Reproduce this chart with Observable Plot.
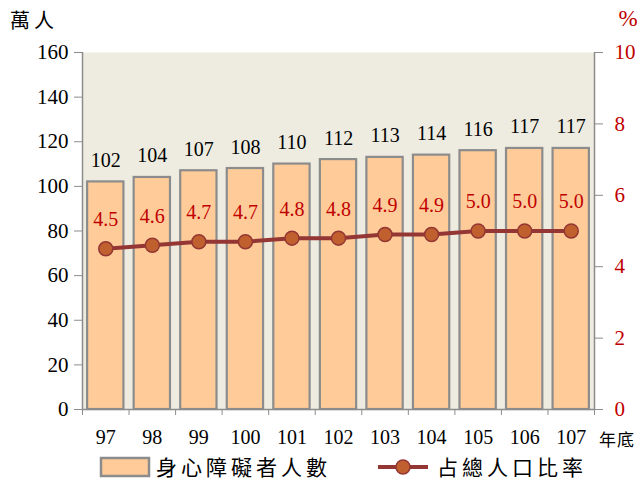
<!DOCTYPE html>
<html>
<head>
<meta charset="utf-8">
<script src="https://cdn.jsdelivr.net/npm/d3@7"></script>
<script src="https://cdn.jsdelivr.net/npm/@observablehq/plot@0.6"></script>
<style>
body{margin:0;background:#fff;}
#chart svg{display:block;}
#chart svg text{font-family:"Liberation Serif","Times New Roman","DejaVu Serif",serif !important;}
#chart svg text.cjk{font-family:"Noto Sans CJK TC","Noto Sans CJK SC",sans-serif !important;}
</style>
</head>
<body>
<div id="chart"></div>
<script>
const years = [97, 98, 99, 100, 101, 102, 103, 104, 105, 106, 107];
const counts = [102, 104, 107, 108, 110, 112, 113, 114, 116, 117, 117];
const pcts = [4.5, 4.6, 4.7, 4.7, 4.8, 4.8, 4.9, 4.9, 5.0, 5.0, 5.0];
const leftTicks = [0, 20, 40, 60, 80, 100, 120, 140, 160];
const rightTicks = [0, 2, 4, 6, 8, 10];
const seriesNames = ["身心障礙者人數", "占總人口比率"];
const leftUnit = "萬人", rightUnit = "%", xUnit = "年底";

const ratio = 16; // 10% maps to 160
const data = years.map((y, i) => ({year: y, count: counts[i], pct: pcts[i]}));

const gray = "#8c8c8c";
const red = "#C00000";

const plot = Plot.plot({
  width: 644,
  height: 491,
  marginLeft: 82,
  marginRight: 50,
  marginTop: 52,
  marginBottom: 82,
  style: {background: "#fff", color: "#000"},
  x: {type: "linear", domain: [years[0] - 0.5, years[years.length - 1] + 0.5]},
  y: {domain: [0, 160]},
  marks: [
    Plot.frame({fill: "#EEECE1", stroke: null}),
    Plot.rectY(data, {x1: d => d.year - 0.39, x2: d => d.year + 0.39, y: "count", fill: "#FFCC99", stroke: gray, strokeWidth: 2.2}),
    Plot.ruleX([years[0] - 0.5, years[years.length - 1] + 0.5], {stroke: gray, strokeWidth: 1.5}),
    Plot.ruleY([0], {stroke: gray, strokeWidth: 1.5}),
    Plot.axisY({ticks: leftTicks, tickSize: 8, tickPadding: 6, stroke: gray, fill: "#000", fontSize: 21, label: null, tickFormat: d => d}),
    Plot.axisY({anchor: "right", ticks: rightTicks.map(t => t * ratio), tickFormat: d => d / ratio, tickSize: 8, tickPadding: 12, stroke: gray, fill: red, fontSize: 21, label: null}),
    Plot.axisX({ticks: d3.range(years.length + 1).map(i => years[0] - 0.5 + i), tickFormat: () => "", tickSize: 6, stroke: gray, label: null}),
    Plot.axisX({ticks: years, tickSize: 0, tickPadding: 20, fontSize: 20, fill: "#000", label: null, tickFormat: d => d}),
    Plot.text(data, {x: "year", y: "count", text: d => String(d.count), lineAnchor: "bottom", dy: -15, fontSize: 20, fill: "#000"}),
    Plot.line(data, {x: "year", y: d => d.pct * ratio, stroke: "#943634", strokeWidth: 4}),
    Plot.dot(data, {x: "year", y: d => d.pct * ratio, r: 7, fill: "#C0602F", stroke: "#943634", strokeWidth: 1.5}),
    Plot.text(data, {x: "year", y: d => d.pct * ratio, text: d => d.pct.toFixed(1), dy: -29, fontSize: 20, fill: red})
  ]
});

const svg = d3.select(plot);
function addText(x, y, str, cls, size, fill, anchor, spacing) {
  return svg.append("text").attr("class", cls).attr("x", x).attr("y", y)
    .attr("text-anchor", anchor).attr("font-size", size)
    .attr("letter-spacing", spacing).attr("fill", fill).text(str);
}
addText(10, 28, leftUnit, "cjk", 20, "#000", "start", 4);
addText(628, 26, rightUnit, "num", 23, red, "middle", 0);
addText(599, 446, xUnit, "cjk", 17, "#000", "start", 1);

const lg = svg.append("g");
lg.append("rect").attr("x", 101).attr("y", 458).attr("width", 48).attr("height", 18).attr("fill", "#FFCC99").attr("stroke", gray).attr("stroke-width", 2.5);
addText(156, 475, seriesNames[0], "cjk", 21, "#000", "start", 4);
lg.append("line").attr("x1", 378).attr("x2", 428).attr("y1", 467).attr("y2", 467).attr("stroke", "#943634").attr("stroke-width", 4);
lg.append("circle").attr("cx", 403).attr("cy", 467).attr("r", 7).attr("fill", "#C0602F").attr("stroke", "#943634").attr("stroke-width", 1.5);
addText(437, 475, seriesNames[1], "cjk", 21, "#000", "start", 4);

document.getElementById("chart").appendChild(plot);
</script>
</body>
</html>
